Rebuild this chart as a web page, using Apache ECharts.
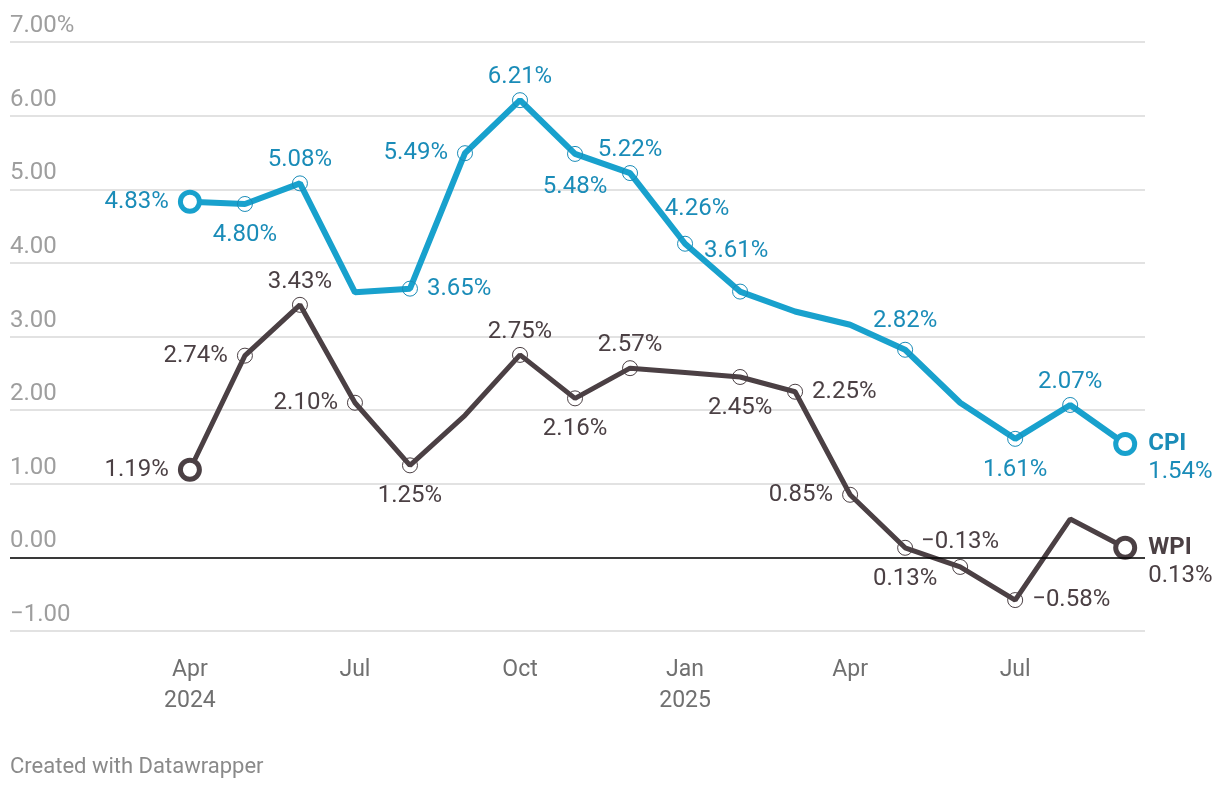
<!DOCTYPE html>
<html><head><meta charset="utf-8">
<script src="https://cdn.jsdelivr.net/npm/echarts@6/dist/echarts.min.js"></script>
<style>html,body{margin:0;padding:0;background:#fff}#c{width:1220px;height:788px}</style>
</head><body><div id="c"></div>
<script>
// ---- data ----
const months = ['Apr 2024','May 2024','Jun 2024','Jul 2024','Aug 2024','Sep 2024','Oct 2024','Nov 2024','Dec 2024',
  'Jan 2025','Feb 2025','Mar 2025','Apr 2025','May 2025','Jun 2025','Jul 2025','Aug 2025','Sep 2025'];
const cpi = [4.83,4.80,5.08,3.60,3.65,5.49,6.21,5.48,5.22,4.26,3.61,3.34,3.16,2.82,2.10,1.61,2.07,1.54];
const wpi = [1.19,2.74,3.43,2.10,1.25,1.93,2.75,2.16,2.57,2.51,2.45,2.25,0.85,0.13,-0.13,-0.58,0.52,0.13];
const xTickIdx = [0,3,6,9,12,15];
const xTickLabels = ['Apr\n2024','Jul','Oct','Jan\n2025','Apr','Jul'];
const yTicks = [-1,0,1,2,3,4,5,6,7];

// ---- label placement (style, not data) ----
const cpiPlace = ['left','bottom','top','','right','left','top','bottom','top','top','top','','','top','','bottom','top','end'];
const cpiShift = {9:[12,-12],10:[-4,-18],13:[0,-6],7:[0,2]};
const wpiPlace = ['left','left','top','left','bottom','','top','bottom','top','','bottom','right','left','bottom','top','right','','end'];
const wpiShift = {14:[0,-2]};

const fmt = v => (v < 0 ? '\u2212' + Math.abs(v).toFixed(2) : v.toFixed(2)) + '%';

function build(values, place, shift, name, lineColor, textColor) {
  return values.map((v, i) => {
    const p = place[i];
    const item = { value: [i, v] };
    if (!p) { item.symbol = 'none'; return item; }
    if (p === 'end' || i === 0) {
      item.symbol = 'circle'; item.symbolSize = 19;
      item.itemStyle = { color: '#fff', borderColor: lineColor, borderWidth: 5 };
    } else {
      item.symbol = 'circle'; item.symbolSize = 15;
      item.itemStyle = { color: 'rgba(0,0,0,0)', borderColor: textColor, borderWidth: 1 };
    }
    const dist = p === 'top' ? 1 : 9;
    item.label = {
      show: true,
      position: p === 'end' ? 'right' : p,
      distance: p === 'end' ? 11 : dist,
      offset: p === 'end' ? [0, 14] : (shift[i] || [0, 0]),
      color: textColor,
      fontFamily: 'Roboto', fontSize: 24,
      formatter: p === 'end' ? '{b|' + name + '}\n' + fmt(v) : fmt(v),
      lineHeight: 28,
      align: p === 'end' ? 'left' : undefined,
      rich: { b: { fontWeight: 'bold', fontSize: 24, color: textColor, fontFamily: 'Roboto', lineHeight: 28 } }
    };
    return item;
  });
}

const chart = echarts.init(document.getElementById('c'), null, { renderer: 'canvas' });
chart.setOption({
  animation: false,
  backgroundColor: '#fff',
  grid: { left: 10, right: 75, top: 42, bottom: 157, containLabel: false },
  xAxis: {
    type: 'value', min: -3.27, max: 17.36,
    axisLine: { show: false }, axisTick: { show: false }, splitLine: { show: false },
    axisLabel: {
      customValues: xTickIdx,
      formatter: v => { const k = xTickIdx.indexOf(Math.round(v)); return k >= 0 ? xTickLabels[k] : ''; },
      color: '#707070', fontFamily: 'Roboto', fontSize: 23, lineHeight: 31, margin: 24
    }
  },
  yAxis: {
    type: 'value', min: -1, max: 7, interval: 1,
    axisLine: { show: false }, axisTick: { show: false },
    splitLine: { lineStyle: { color: '#e2e2e2', width: 2 } },
    axisLabel: {
      inside: true, margin: 0, verticalAlign: 'bottom', padding: [0, 0, 4, 0],
      formatter: v => v === 7 ? '7.00%' : (v < 0 ? '\u2212' + Math.abs(v).toFixed(2) : v.toFixed(2)),
      color: '#9e9e9e', fontFamily: 'Roboto', fontSize: 24
    }
  },
  series: [
    {
      name: 'WPI', type: 'line', z: 3,
      data: build(wpi, wpiPlace, wpiShift, 'WPI', '#4b4044', '#4b4044'),
      lineStyle: { color: '#4b4044', width: 5 },
      itemStyle: { color: '#4b4044' },
      markLine: { silent: true, symbol: 'none', label: { show: false },
        lineStyle: { color: '#000', width: 1.5, type: 'solid' }, data: [{ yAxis: 0 }] }
    },
    {
      name: 'CPI', type: 'line', z: 4,
      data: build(cpi, cpiPlace, cpiShift, 'CPI', '#18a1cd', '#1a8cb8'),
      lineStyle: { color: '#18a1cd', width: 6 },
      itemStyle: { color: '#18a1cd' }
    }
  ],
  graphic: [{ type: 'text', left: 10, top: 756,
    style: { text: 'Created with Datawrapper', fill: '#8a8a8a', font: '22px Roboto' } }]
});
</script></body></html>
